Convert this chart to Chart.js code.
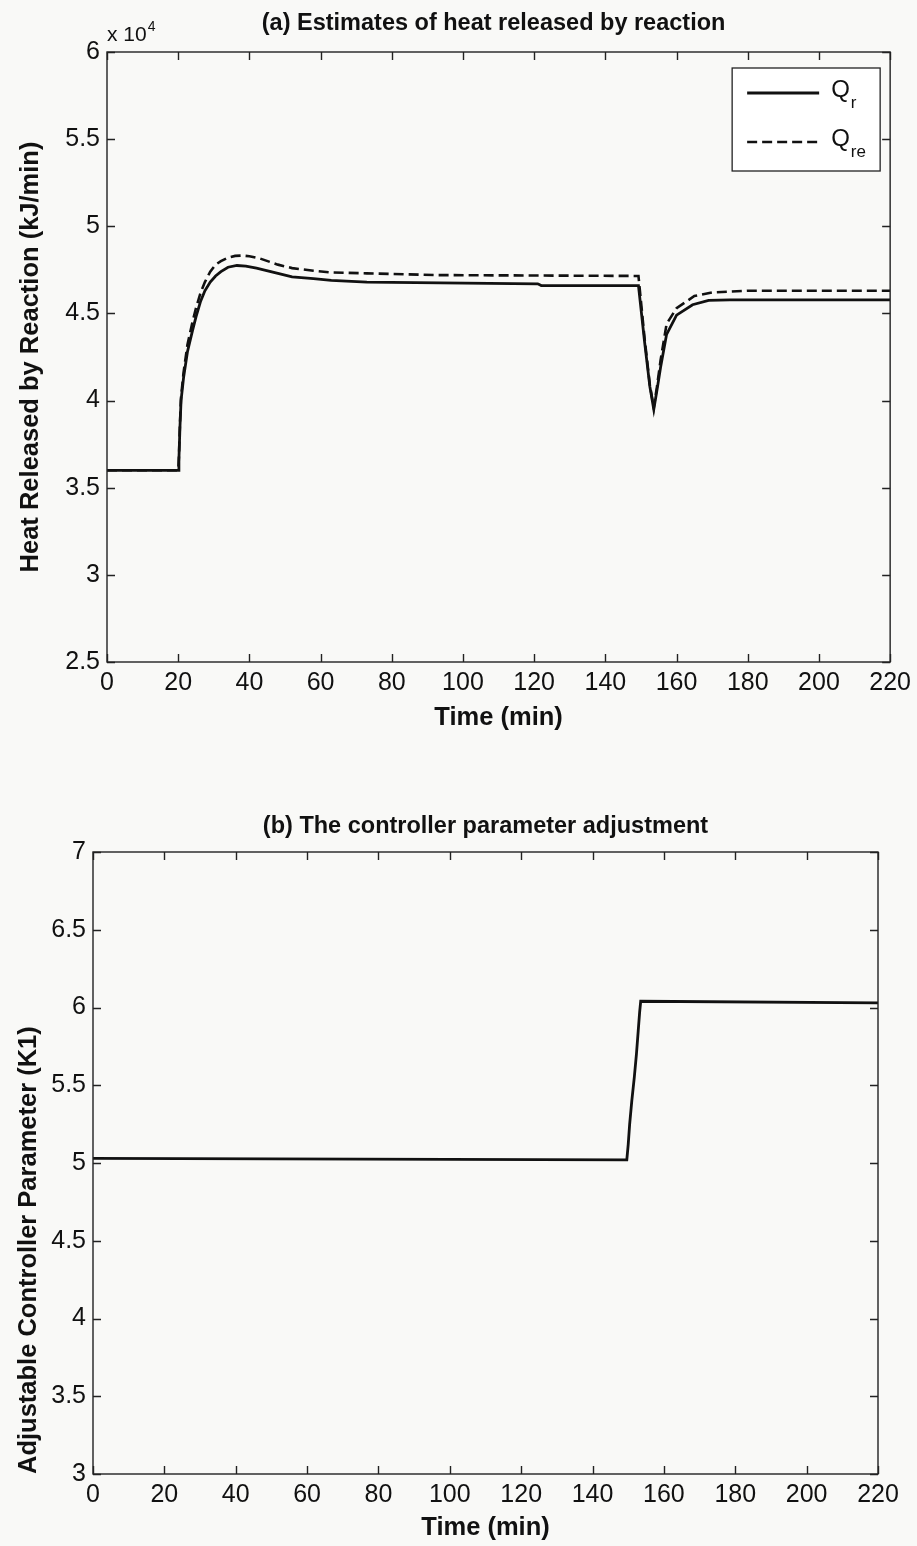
<!DOCTYPE html>
<html>
<head>
<meta charset="utf-8">
<script src="https://cdn.jsdelivr.net/npm/chart.js@4.4.1/dist/chart.umd.min.js"></script>
<style>
  html, body { margin: 0; padding: 0; background: #f9f9f7; }
  canvas { display: block; }
</style>
</head>
<body>
<canvas id="heatChart" width="917" height="760"></canvas>
<canvas id="gainChart" width="917" height="786"></canvas>
<script>
// time axis (min)
const timeTicks = [0, 20, 40, 60, 80, 100, 120, 140, 160, 180, 200, 220];

// heat released by reaction, kJ/min
const qrTime = [0, 20, 20.2, 20.5, 20.8, 21.5, 22.6, 24, 25, 26.3, 27.5, 29, 30.5, 32, 34, 36.5, 39, 42, 46, 52, 58, 63, 73, 121, 122, 149.3,
  151, 152.5, 153.6, 154.5, 155.5, 157.2, 160, 164.5, 169, 175, 220];
const qrValue = [36000, 36000, 36600, 38500, 40000, 41300, 42800, 44000, 44800, 45700, 46300, 46800, 47150, 47400, 47650, 47750, 47720, 47600, 47400, 47100, 47000, 46900, 46800, 46700, 46600, 46600,
  43400, 40800, 39500, 40600, 41900, 43800, 44900, 45500, 45750, 45780, 45780];

// estimated heat released
const qreTime = [0, 20, 20.2, 20.5, 20.8, 21.5, 22.6, 24, 25, 26.3, 27.5, 29, 30.5, 32, 34, 36, 38, 40, 43, 48, 52, 58, 63, 73, 93, 149.3,
  151, 152.5, 153.6, 154.5, 155.5, 157.2, 160, 165, 170, 180, 220];
const qreValue = [36000, 36000, 36700, 38700, 40200, 41600, 43200, 44500, 45300, 46200, 46800, 47400, 47800, 48000, 48200, 48300, 48320, 48280, 48150, 47800, 47600, 47450, 47350, 47300, 47200, 47150,
  43600, 40900, 39600, 40800, 42300, 44400, 45300, 46000, 46200, 46300, 46300];

const heatTicks = [25000, 30000, 35000, 40000, 45000, 50000, 55000, 60000];
const seriesNames = [['Q', 'r'], ['Q', 're']];

// adjustable controller parameter K1
const k1Time = [0, 149.6, 150, 150.4, 151, 151.7, 152.3, 152.8, 153.2, 153.5, 220];
const k1Value = [5.03, 5.02, 5.12, 5.25, 5.4, 5.55, 5.7, 5.85, 5.97, 6.04, 6.03];
const k1Ticks = [3, 3.5, 4, 4.5, 5, 5.5, 6, 6.5, 7];

const FONT = '"Liberation Sans", Arial, Helvetica, sans-serif';
Chart.defaults.font.family = FONT;
Chart.defaults.color = '#111';

const toPoints = (xs, ys) => xs.map((x, i) => ({ x: x, y: ys[i] }));

// box frame, inward ticks, title, exponent label and legend
const frame = {
  id: 'frame',
  afterDraw(chart, args, opts) {
    const { ctx, chartArea: a, scales } = chart;
    ctx.save();
    ctx.strokeStyle = '#222';
    ctx.lineWidth = 1.4;
    ctx.strokeRect(a.left, a.top, a.width, a.height);

    ctx.beginPath();
    scales.x.ticks.forEach(t => {
      const px = Math.round(scales.x.getPixelForValue(t.value)) + 0.5;
      ctx.moveTo(px, a.bottom); ctx.lineTo(px, a.bottom - 8);
      ctx.moveTo(px, a.top); ctx.lineTo(px, a.top + 8);
    });
    scales.y.ticks.forEach(t => {
      const py = Math.round(scales.y.getPixelForValue(t.value)) + 0.5;
      ctx.moveTo(a.left, py); ctx.lineTo(a.left + 8, py);
      ctx.moveTo(a.right, py); ctx.lineTo(a.right - 8, py);
    });
    ctx.stroke();

    ctx.fillStyle = '#111';
    ctx.textAlign = 'center';
    ctx.textBaseline = 'middle';
    ctx.font = 'bold 23.5px ' + FONT;
    ctx.fillText(opts.title, (a.left + a.right) / 2 + (opts.titleDx || 0), opts.titleY);

    if (opts.exponent) {
      ctx.textAlign = 'left';
      ctx.textBaseline = 'alphabetic';
      ctx.font = '21px ' + FONT;
      ctx.fillText('x 10', a.left, a.top - 11);
      const w = ctx.measureText('x 10').width;
      ctx.font = '14px ' + FONT;
      ctx.fillText(opts.exponent, a.left + w + 1, a.top - 21);
    }

    if (opts.legend) {
      const bx = a.right - 158, by = a.top + 16, bw = 148, bh = 103;
      ctx.fillStyle = '#ffffff';
      ctx.fillRect(bx, by, bw, bh);
      ctx.lineWidth = 1.3;
      ctx.strokeRect(bx, by, bw, bh);
      chart.data.datasets.forEach((ds, i) => {
        const ly = by + 25 + i * 49;
        ctx.strokeStyle = ds.borderColor;
        ctx.lineWidth = ds.borderWidth;
        ctx.setLineDash(ds.borderDash || []);
        ctx.beginPath();
        ctx.moveTo(bx + 15, ly); ctx.lineTo(bx + 87, ly);
        ctx.stroke();
        ctx.setLineDash([]);
        const [main, sub] = seriesNames[i];
        ctx.fillStyle = '#111';
        ctx.textAlign = 'left';
        ctx.textBaseline = 'alphabetic';
        ctx.font = '24px ' + FONT;
        ctx.fillText(main, bx + 99, ly + 4);
        const w = ctx.measureText(main).width;
        ctx.font = '17px ' + FONT;
        ctx.fillText(sub, bx + 100 + w, ly + 15);
      });
    }
    ctx.restore();
  }
};

function timeScale(pad, titlePad) {
  return {
    type: 'linear',
    min: 0,
    max: 220,
    afterBuildTicks: s => { s.ticks = timeTicks.map(v => ({ value: v })); },
    afterFit: s => { s.height = pad; },
    grid: { display: false, drawTicks: false },
    border: { display: false },
    ticks: { font: { size: 25 }, padding: 6, maxRotation: 0, autoSkip: false, color: '#111' },
    title: { display: true, text: 'Time (min)', font: { size: 25.5, weight: 'bold', lineHeight: 1 }, padding: { top: 0, bottom: titlePad }, color: '#111' }
  };
}

new Chart(document.getElementById('heatChart'), {
  type: 'line',
  data: {
    datasets: [
      { label: 'Qr', data: toPoints(qrTime, qrValue), borderColor: '#111', borderWidth: 2.8, pointRadius: 0, tension: 0 },
      { label: 'Qre', data: toPoints(qreTime, qreValue), borderColor: '#111', borderWidth: 2.6, borderDash: [10, 5], pointRadius: 0, tension: 0 }
    ]
  },
  options: {
    responsive: false,
    animation: false,
    layout: { padding: { top: 52, right: 26, left: 0, bottom: 0 } },
    scales: {
      x: timeScale(98, 29),
      y: {
        type: 'linear',
        min: 25000,
        max: 60000,
        afterBuildTicks: s => { s.ticks = heatTicks.map(v => ({ value: v })); },
        afterFit: s => { s.width = 107; },
        grid: { display: false, drawTicks: false },
        border: { display: false },
        ticks: { font: { size: 25 }, padding: 7, color: '#111', callback: v => String(v / 10000) },
        title: { display: true, text: 'Heat Released by Reaction (kJ/min)', font: { size: 25.5, weight: 'bold', lineHeight: 1 }, padding: { top: 18, bottom: 0 }, color: '#111' }
      }
    },
    plugins: {
      legend: { display: false },
      tooltip: { enabled: false },
      frame: { title: '(a) Estimates of heat released by reaction', titleY: 24, titleDx: -5, exponent: '4', legend: true }
    }
  },
  plugins: [frame]
});

new Chart(document.getElementById('gainChart'), {
  type: 'line',
  data: {
    datasets: [
      { label: 'K1', data: toPoints(k1Time, k1Value), borderColor: '#111', borderWidth: 2.8, pointRadius: 0, tension: 0 }
    ]
  },
  options: {
    responsive: false,
    animation: false,
    layout: { padding: { top: 92, right: 39, left: 0, bottom: 0 } },
    scales: {
      x: timeScale(72, 5),
      y: {
        type: 'linear',
        min: 3,
        max: 7,
        afterBuildTicks: s => { s.ticks = k1Ticks.map(v => ({ value: v })); },
        afterFit: s => { s.width = 93; },
        grid: { display: false, drawTicks: false },
        border: { display: false },
        ticks: { font: { size: 25 }, padding: 7, color: '#111', callback: v => String(v) },
        title: { display: true, text: 'Adjustable Controller Parameter (K1)', align: 'start', font: { size: 25.5, weight: 'bold', lineHeight: 1 }, padding: { top: 16, bottom: 0 }, color: '#111' }
      }
    },
    plugins: {
      legend: { display: false },
      tooltip: { enabled: false },
      frame: { title: '(b) The controller parameter adjustment', titleY: 67 }
    }
  },
  plugins: [frame]
});
</script>
</body>
</html>
